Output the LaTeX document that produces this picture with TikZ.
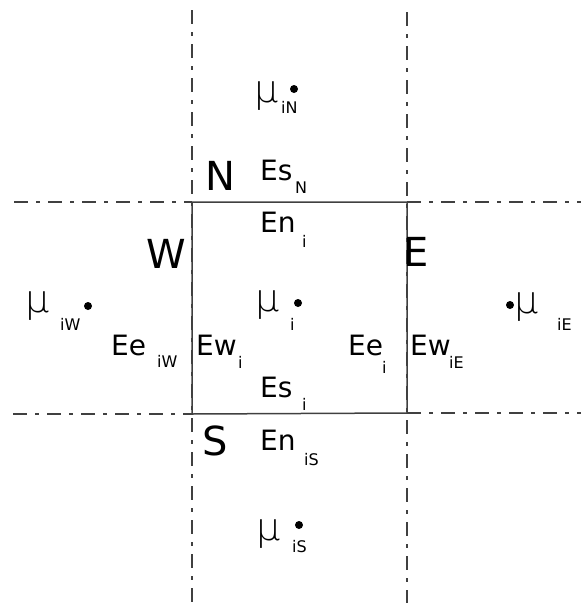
\documentclass[tikz,border=0pt]{standalone}
\usepackage{fontspec}
\setmainfont{DejaVu Sans}
\newfontfamily\mufont{DejaVu Sans ExtraLight}
\begin{document}
\begin{tikzpicture}[x=1pt,y=-1pt,
  lbl/.style={anchor=base west,inner sep=0pt,font=\fontsize{28}{30}\selectfont},
  sub/.style={anchor=base west,inner sep=0pt,font=\fontsize{16}{18}\selectfont},
  big/.style={anchor=base west,inner sep=0pt,font=\fontsize{40}{42}\selectfont},
  mu/.style={anchor=base west,inner sep=0pt,font=\mufont\fontsize{38}{40}\selectfont},
  dotnode/.style={circle,fill=black,inner sep=0pt,minimum size=8pt},
  grid/.style={draw=black!75,line width=1.4pt,dash pattern=on 14pt off 8pt on 4pt off 8pt},
  cell/.style={draw=black!75,line width=1.5pt}]
\useasboundingbox (0,0) rectangle (581,603);
% grid lines
\coordinate (vlt) at (192,10);
\coordinate (vlb) at (192,603);
\coordinate (vrt) at (407,12);
\coordinate (vrb) at (407,603);
\coordinate (hlt) at (14,202);
\coordinate (hltr) at (192,202);
\coordinate (hrt) at (407,202);
\coordinate (hrtr) at (581,202);
\coordinate (hlb) at (13,414);
\coordinate (hlbr) at (192,414);
\coordinate (hrb) at (407,413);
\coordinate (hrbr) at (581,413);
\draw[grid] (vlt) -- (vlb);
\draw[grid] (vrt) -- (vrb);
\draw[grid] (hlt) -- (hltr);
\draw[grid] (hrt) -- (hrtr);
\draw[grid] (hlb) -- (hlbr);
\draw[grid] (hrb) -- (hrbr);
\draw[cell] (hltr) -- (hrt) -- (hrb) -- (hlbr) -- cycle;
% north
\node[mu] (muN) at (254,102) {μ};
\node[sub] (muNs) at (281,113) {iN};
\node[dotnode] (dN) at (294,89) {};
\node[big] (N) at (205,190) {N};
\node[lbl] (EsN) at (260,180) {Es};
\node[sub] (EsNs) at (295,193) {N};
\node[lbl] (Eni) at (260,232) {En};
\node[sub] (Enis) at (302,247) {i};
% west / east letters
\node[big] (W) at (146,268) {W};
\node[big] (E) at (403,266) {E};
% west
\node[mu] (muW) at (25,312) {μ};
\node[sub] (muWs) at (60,330) {iW};
\node[dotnode] (dW) at (88,306) {};
\node[lbl] (EeW) at (111,355) {Ee};
\node[sub] (EeWs) at (157,367) {iW};
% centre
\node[lbl] (Ewi) at (196,355) {Ew};
\node[sub] (Ewis) at (238,368) {i};
\node[mu] (mui) at (255,311) {μ};
\node[sub] (muis) at (290,330) {i};
\node[dotnode] (di) at (298,303) {};
\node[lbl] (Eei) at (348,355) {Ee};
\node[sub] (Eeis) at (382,373) {i};
% east
\node[lbl] (EwE) at (410,355) {Ew};
\node[sub] (EwEs) at (449,368) {iE};
\node[dotnode] (dE) at (510,305) {};
\node[mu] (muE) at (514,313) {μ};
\node[sub] (muEs) at (557,330) {iE};
% south
\node[lbl] (Esi) at (260,397) {Es};
\node[sub] (Esis) at (302,410) {i};
\node[big] (S) at (202,455) {S};
\node[lbl] (EnS) at (260,450) {En};
\node[sub] (EnSs) at (304,465) {iS};
\node[mu] (muS) at (256,540) {μ};
\node[sub] (muSs) at (292,552) {iS};
\node[dotnode] (dS) at (299,525) {};
\end{tikzpicture}
\end{document}
